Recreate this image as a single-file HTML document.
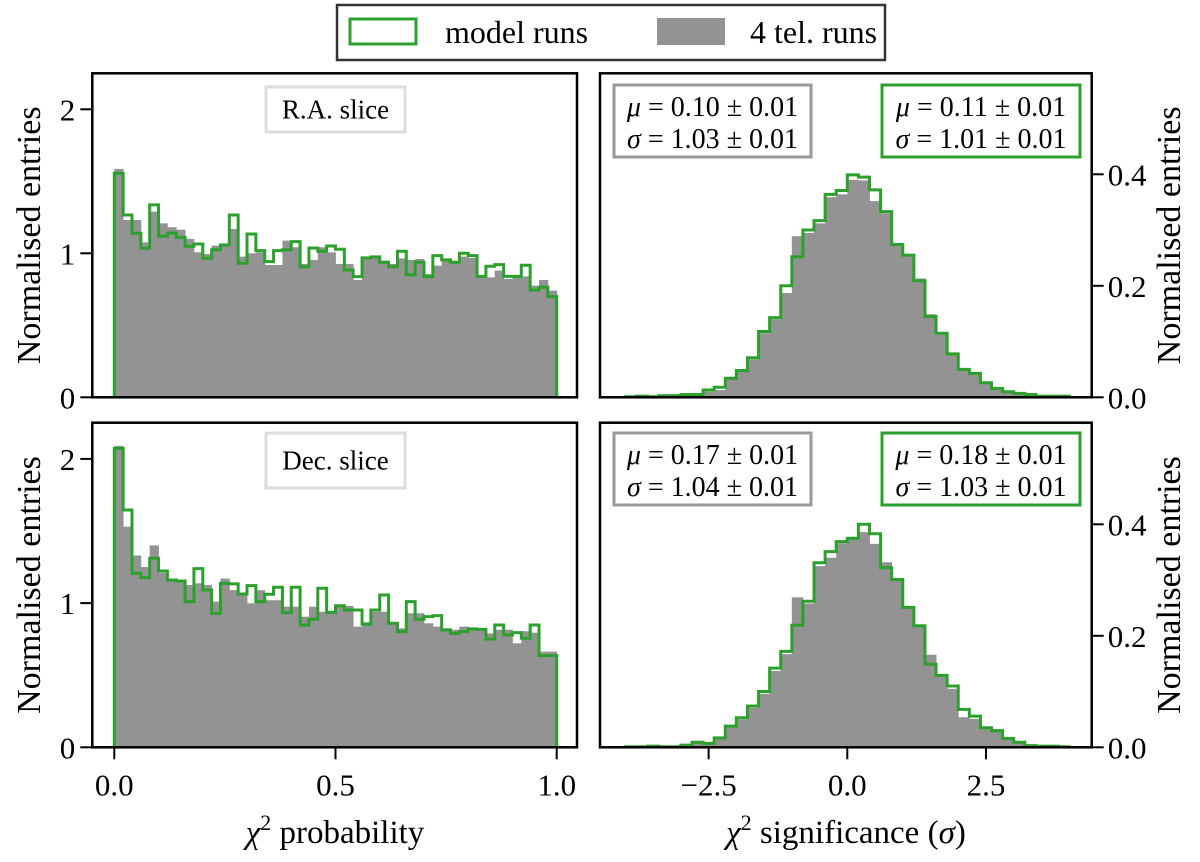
<!DOCTYPE html>
<html><head><meta charset="utf-8"><style>
body{margin:0;background:#fff;}
svg text{font-family:"Liberation Serif","DejaVu Serif",serif;fill:#000;}
</style></head><body>
<svg id="chart" width="1200" height="857" viewBox="0 0 1200 857" xmlns="http://www.w3.org/2000/svg"></svg>
<script>
// ---- data ----
const probBinsN = 50; // 0..1
const sigBinLo = -4.0, sigBinHi = 4.0, sigBinsN = 40;
const raModel = [1.556,1.266,1.139,1.035,1.336,1.118,1.141,1.111,1.049,1.065,0.965,1.025,1.058,1.266,0.931,1.134,1.019,0.942,1.019,1.025,1.081,0.907,1.037,1.014,1.051,1.028,0.884,0.838,0.968,0.975,0.938,0.907,1.014,0.850,0.938,0.838,0.984,0.954,0.938,1.0,0.984,0.840,0.910,0.921,0.840,0.840,0.917,0.745,0.764,0.699];
const raTel = [1.586,1.231,1.231,1.076,1.289,1.208,1.181,1.164,1.100,1.007,0.995,1.053,1.053,1.169,0.977,1.0,1.007,0.919,0.919,1.088,1.042,0.926,0.954,1.042,1.007,0.926,0.926,0.815,0.972,0.972,0.949,0.926,0.965,0.954,0.961,0.856,0.914,0.961,0.942,0.977,0.968,0.833,0.833,0.880,0.822,0.840,0.840,0.775,0.815,0.741];
const decModel = [2.073,1.646,1.207,1.177,1.311,1.223,1.160,1.153,1.010,1.239,1.091,0.929,1.137,1.133,1.063,1.121,1.010,1.061,1.110,0.934,1.110,0.848,0.888,1.103,0.936,0.982,0.952,0.952,0.853,0.952,1.056,0.860,0.802,1.010,0.888,0.906,0.913,0.814,0.790,0.802,0.821,0.818,0.751,0.848,0.779,0.795,0.756,0.848,0.636,0.636];
const decTel = [2.09,1.53,1.33,1.25,1.40,1.21,1.16,1.15,1.126,1.137,1.126,1.01,1.17,1.09,1.06,0.999,1.09,1.02,1.02,0.975,0.975,0.906,0.975,0.94,0.93,0.98,0.98,0.837,0.867,0.94,0.94,0.86,0.825,0.93,0.93,0.86,0.837,0.825,0.815,0.837,0.825,0.825,0.79,0.815,0.815,0.721,0.805,0.795,0.663,0.663];
const raSigModel = [0.001,0.002,0.001,0.003,0.003,0.005,0.005,0.013,0.018,0.034,0.048,0.071,0.118,0.143,0.200,0.252,0.300,0.317,0.364,0.371,0.399,0.395,0.372,0.333,0.274,0.255,0.209,0.145,0.115,0.078,0.050,0.043,0.026,0.016,0.010,0.007,0.005,0.002,0.002,0.002];
const raSigTel = [0.001,0.001,0.001,0.002,0.003,0.004,0.005,0.010,0.013,0.037,0.046,0.068,0.115,0.140,0.187,0.289,0.295,0.312,0.359,0.364,0.390,0.389,0.352,0.330,0.272,0.253,0.213,0.149,0.113,0.076,0.049,0.041,0.025,0.015,0.009,0.006,0.004,0.002,0.001,0.001];
const decSigModel = [0.001,0.001,0.002,0.001,0.001,0.004,0.009,0.007,0.017,0.038,0.053,0.074,0.100,0.142,0.172,0.219,0.262,0.331,0.351,0.369,0.375,0.400,0.383,0.322,0.301,0.251,0.218,0.149,0.129,0.110,0.068,0.056,0.035,0.030,0.016,0.009,0.003,0.002,0.002,0.001];
const decSigTel = [0.001,0.001,0.001,0.001,0.001,0.003,0.007,0.006,0.015,0.036,0.050,0.071,0.096,0.137,0.167,0.269,0.258,0.325,0.340,0.366,0.375,0.386,0.365,0.332,0.301,0.249,0.218,0.166,0.127,0.105,0.054,0.051,0.033,0.028,0.015,0.008,0.003,0.002,0.001,0.001];
const probTicks = [0.0,0.5,1.0];
const probTickLabels = ["0.0","0.5","1.0"];
const sigTicks = [-2.5,0,2.5];
const sigTickLabels = ["\u22122.5","0.0","2.5"];
const leftYTicks = [0,1,2];
const leftYTickLabels = ["0","1","2"];
const rightYTicks = [0,0.2,0.4];
const rightYTickLabels = ["0.0","0.2","0.4"];

const NS="http://www.w3.org/2000/svg";
const svg=document.getElementById('chart');
function mk(tag,attrs,parent){const e=document.createElementNS(NS,tag);for(const k in attrs)e.setAttribute(k,attrs[k]);(parent||svg).appendChild(e);return e;}
const GREEN="#2ca02c", GRAY="#939393";
const TICKFS=31;

const panels=[
 {name:'ra-prob',x0:92.3,x1:577,y0:73.3,y1:397.3,xs:v=>114.3+v*442.4,ys:v=>397.3-v*144,model:raModel,tel:raTel,lo:0,hi:1,n:probBinsN,side:'left'},
 {name:'ra-sig',x0:600,x1:1091.7,y0:73.3,y1:397.3,xs:v=>847.3+v*55.47,ys:v=>397.3-v*557.5,model:raSigModel,tel:raSigTel,lo:sigBinLo,hi:sigBinHi,n:sigBinsN,side:'right'},
 {name:'dec-prob',x0:92.3,x1:577,y0:422.7,y1:747.3,xs:v=>114.3+v*442.4,ys:v=>747.3-v*144.2,model:decModel,tel:decTel,lo:0,hi:1,n:probBinsN,side:'left'},
 {name:'dec-sig',x0:600,x1:1091.7,y0:422.7,y1:747.3,xs:v=>847.3+v*55.47,ys:v=>747.3-v*557.5,model:decSigModel,tel:decSigTel,lo:sigBinLo,hi:sigBinHi,n:sigBinsN,side:'right'}
];

panels.forEach((p,pi)=>{
  const g=mk('g',{});
  
  
  const w=(p.hi-p.lo)/p.n;
  p.tel.forEach((v,i)=>{
    const xa=p.xs(p.lo+i*w), xb=p.xs(p.lo+(i+1)*w);
    const r=mk('rect',{x:xa,y:p.ys(v),width:xb-xa+0.4,height:p.ys(0)-p.ys(v),fill:GRAY},g);
    
    
  });
  let d='M'+p.xs(p.lo)+','+p.ys(0);
  p.model.forEach((v,i)=>{d+=' L'+p.xs(p.lo+i*w)+','+p.ys(v)+' L'+p.xs(p.lo+(i+1)*w)+','+p.ys(v);});
  d+=' L'+p.xs(p.hi)+','+p.ys(0);
  const st=mk('path',{d:d,fill:'none',stroke:GREEN,'stroke-width':3,'stroke-linejoin':'miter'},g);
  
  
  const fr=mk('rect',{x:p.x0,y:p.y0,width:p.x1-p.x0,height:p.y1-p.y0,fill:'none',stroke:'#000','stroke-width':2.5},g);
  
  
  const yt=p.side==='left'?leftYTicks:rightYTicks, yl=p.side==='left'?leftYTickLabels:rightYTickLabels;
  yt.forEach((t,i)=>{
    const y=p.ys(t);
    if(p.side==='left'){
      mk('line',{x1:p.x0-12,x2:p.x0,y1:y,y2:y,stroke:'#000','stroke-width':2},g);
      const tx=mk('text',{x:p.x0-17,y:y+11,'font-size':TICKFS,'text-anchor':'end'},g);tx.textContent=yl[i];
      
      
    } else {
      mk('line',{x1:p.x1,x2:p.x1+12,y1:y,y2:y,stroke:'#000','stroke-width':2},g);
      const tx=mk('text',{x:p.x1+16,y:y+11,'font-size':TICKFS,'text-anchor':'start'},g);tx.textContent=yl[i];
      
      
    }
  });
  if(pi>=2){
    const xt=p.side==='left'?probTicks:sigTicks, xl=p.side==='left'?probTickLabels:sigTickLabels;
    xt.forEach((t,i)=>{
      const x=p.xs(t);
      mk('line',{x1:x,x2:x,y1:p.y1,y2:p.y1+12,stroke:'#000','stroke-width':2},g);
      const tx=mk('text',{x:x,y:p.y1+48,'font-size':TICKFS,'text-anchor':'middle'},g);tx.textContent=xl[i];
      
      
    });
  }
  const cy=(p.y0+p.y1)/2;
  const lx=p.side==='left'?40:1180;
  const yl2=mk('text',{x:lx,y:cy,'font-size':34,'text-anchor':'middle',transform:'rotate(-90 '+lx+' '+cy+')'},g);
  yl2.textContent='Normalised entries';
  
  
});

function box(x,y,w,h,color,lines,name,fs){
  const g=mk('g',{});
  
  
  mk('rect',{x:x,y:y,width:w,height:h,fill:'#fff',stroke:color,'stroke-width':3},g);
  lines.forEach((l,i)=>{
    const t=mk('text',{x:x+w/2,y:y+(lines.length===1?h/2+9:31+i*32),'font-size':fs,'text-anchor':'middle'},g);
    t.innerHTML=l;
  });
}
box(266,87,139,45,'#dcdcdc',['R.A. slice'],'ra-slice-label',27);
box(266,433,139,55,'#dcdcdc',['Dec. slice'],'dec-slice-label',27);
box(614,85,197,72,'#999',['<tspan font-style="italic">μ</tspan> = 0.10 ± 0.01','<tspan font-style="italic">σ</tspan> = 1.03 ± 0.01'],'ra-tel-stats',28);
box(882,85,198,72,GREEN,['<tspan font-style="italic">μ</tspan> = 0.11 ± 0.01','<tspan font-style="italic">σ</tspan> = 1.01 ± 0.01'],'ra-model-stats',28);
box(614,433,197,72,'#999',['<tspan font-style="italic">μ</tspan> = 0.17 ± 0.01','<tspan font-style="italic">σ</tspan> = 1.04 ± 0.01'],'dec-tel-stats',28);
box(882,433,198,72,GREEN,['<tspan font-style="italic">μ</tspan> = 0.18 ± 0.01','<tspan font-style="italic">σ</tspan> = 1.03 ± 0.01'],'dec-model-stats',28);

const xl1=mk('text',{x:335,y:843,'font-size':33,'text-anchor':'middle'});
xl1.innerHTML='<tspan font-style="italic">χ</tspan><tspan font-size="22" dy="-13">2</tspan><tspan dy="13"> probability</tspan>';


const xl2=mk('text',{x:846,y:843,'font-size':33,'text-anchor':'middle'});
xl2.innerHTML='<tspan font-style="italic">χ</tspan><tspan font-size="22" dy="-13">2</tspan><tspan dy="13"> significance (</tspan><tspan font-style="italic">σ</tspan>)';



const lg=mk('g',{});


mk('rect',{x:337,y:5,width:548,height:55,fill:'#fff',stroke:'#333','stroke-width':2.5},lg);
const le1=mk('rect',{x:350,y:19,width:66,height:25,fill:'none',stroke:GREEN,'stroke-width':3},lg);


const t1=mk('text',{x:445,y:43,'font-size':32},lg);t1.textContent='model runs';
const le2=mk('rect',{x:657,y:18,width:68,height:27,fill:GRAY},lg);


const t2=mk('text',{x:750,y:43,'font-size':32},lg);t2.textContent='4 tel. runs';
</script>
</body></html>
